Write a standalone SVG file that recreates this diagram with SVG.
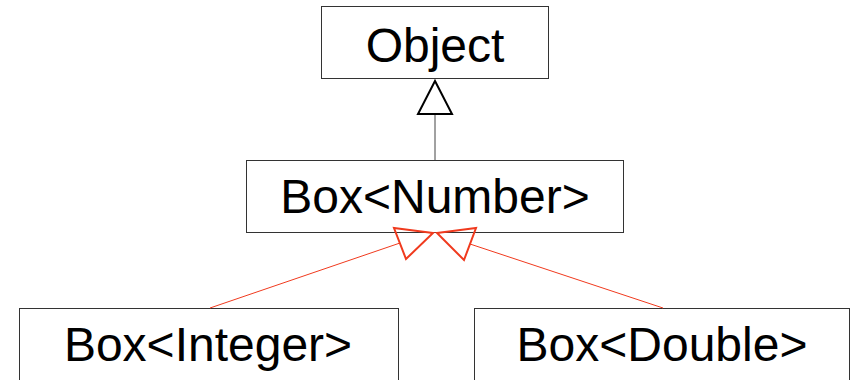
<svg xmlns="http://www.w3.org/2000/svg" width="851" height="380" viewBox="0 0 851 380">
<style>
.box{fill:#fff;stroke:#333;stroke-width:1}
.lbl{font-family:"Liberation Sans",Arial,sans-serif;font-size:48px;fill:#000;text-anchor:middle}
.red{stroke:#f03a1e;fill:none}
</style>
<rect width="851" height="380" fill="#fff"/>
<g id="object">
<rect class="box" x="321.5" y="6.5" width="227" height="72"/>
<text class="lbl" x="435" y="62">Object</text>
</g>
<g id="boxNumber">
<rect class="box" x="246.5" y="160.5" width="377" height="72"/>
<text class="lbl" x="435" y="213">Box&lt;Number&gt;</text>
</g>
<g id="boxInteger">
<rect class="box" x="19.5" y="308.5" width="379" height="90"/>
<text class="lbl" x="208" y="361">Box&lt;Integer&gt;</text>
</g>
<g id="boxDouble">
<rect class="box" x="474.5" y="308.5" width="375" height="90"/>
<text class="lbl" x="662" y="361">Box&lt;Double&gt;</text>
</g>
<g id="connectors">
<line x1="435" y1="114" x2="435" y2="160" stroke="#444" stroke-width="1"/>
<polygon points="435,81 418,114 452,114" fill="#fff" stroke="#000" stroke-width="2"/>
<line class="red" x1="210" y1="308" x2="400" y2="243" stroke-width="1"/>
<polygon class="red" points="433,233 394,228 406,259" stroke-width="2"/>
<line class="red" x1="663" y1="308" x2="470" y2="244" stroke-width="1"/>
<polygon class="red" points="437,233 476,228 464,260" stroke-width="2"/>
</g>
</svg>
